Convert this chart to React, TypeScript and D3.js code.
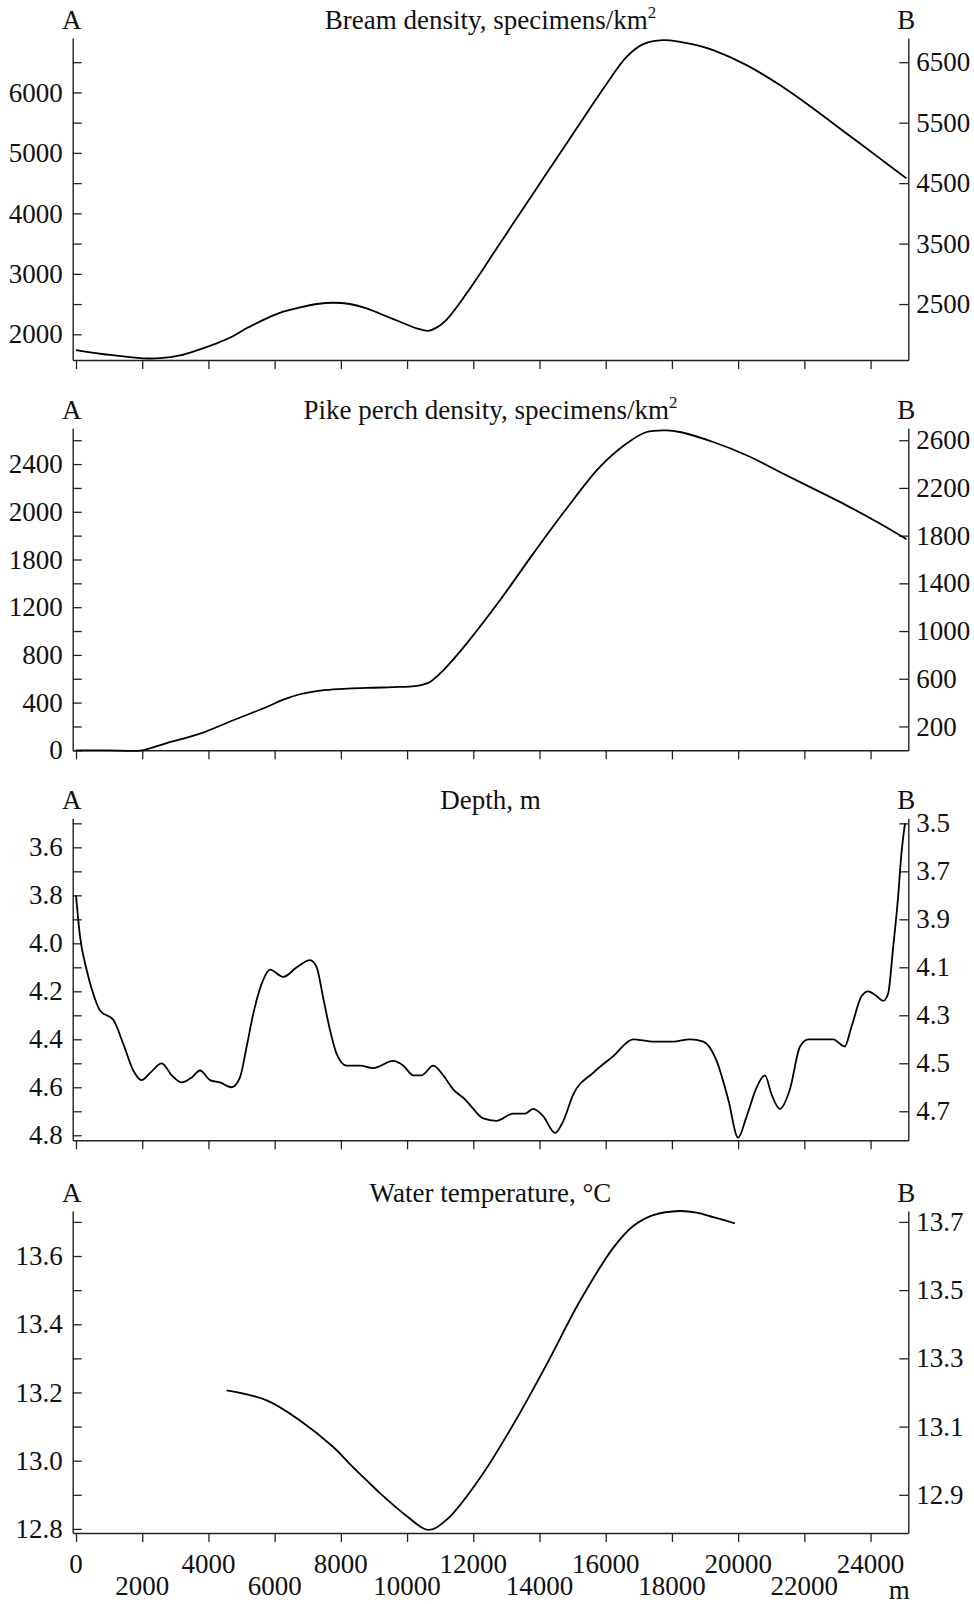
import React, { useEffect, useRef } from "react";
import * as d3 from "d3";

// ---- distance axis ----
const distTicks = [0, 2000, 4000, 6000, 8000, 10000, 12000, 14000, 16000, 18000, 20000, 22000, 24000];
const distLabelsRow1 = [0, 4000, 8000, 12000, 16000, 20000, 24000];
const distLabelsRow2 = [2000, 6000, 10000, 14000, 18000, 22000];
const distUnit = "m";

// ---- Bream density ----
const breamDist = [0, 1030, 2030, 2540, 3140, 3745, 4250, 4750, 5150, 5760, 6260, 6765, 7270, 7770, 8275, 8780, 9280, 9785, 10290, 10640, 10890, 11190, 11800, 12805, 13811, 14516, 15321, 16026, 16630, 17133, 17737, 18240, 18744, 19247, 20254, 21260, 22267, 23274, 24280, 25086];
const breamVal = [1740, 1658, 1603, 1605, 1650, 1752, 1851, 1972, 2099, 2264, 2374, 2446, 2501, 2522, 2501, 2430, 2319, 2208, 2099, 2058, 2110, 2240, 2678, 3503, 4330, 4909, 5570, 6140, 6588, 6798, 6864, 6837, 6782, 6699, 6451, 6121, 5735, 5322, 4909, 4579];
const breamLeftTicks = [2000, 2500, 3000, 3500, 4000, 4500, 5000, 5500, 6000, 6500];
const breamLeftLabelValues = [2000, 3000, 4000, 5000, 6000];
const breamLeftLabelTexts = ["2000", "3000", "4000", "5000", "6000"];
const breamRightTicks = [2500, 3500, 4500, 5500, 6500];
const breamRightLabels = ["2500", "3500", "4500", "5500", "6500"];

// ---- Pike perch density ----
const pikeDist = [0, 1000, 2000, 2738, 3745, 4751, 5758, 6261, 6765, 7268, 7771, 8778, 9785, 10300, 10691, 11093, 11798, 12805, 13811, 14818, 15825, 16630, 17234, 17838, 18241, 19247, 20254, 21260, 22267, 23274, 24280, 25086];
const pikeVal = [0, 0, 0, 61, 140, 252, 363, 425, 470, 497, 511, 523, 531, 540, 573, 671, 895, 1258, 1649, 2027, 2376, 2572, 2669, 2683, 2669, 2585, 2474, 2334, 2194, 2054, 1901, 1769];
const pikeLeftTicks = [0, 200, 400, 600, 800, 1000, 1200, 1400, 1600, 1800, 2000, 2200, 2400, 2600];
const pikeLeftLabelValues = [0, 400, 800, 1200, 1600, 2000, 2400];
const pikeLeftLabelTexts = ["0", "400", "800", "1200", "1800", "2000", "2400"];
const pikeRightTicks = [200, 600, 1000, 1400, 1800, 2200, 2600];
const pikeRightLabels = ["200", "600", "1000", "1400", "1800", "2200", "2600"];

// ---- Depth ----
const depthDist = [0, 120, 320, 520, 725, 1130, 1430, 1730, 1980, 2240, 2590, 2890, 3190, 3490, 3745, 4050, 4350, 4700, 4950, 5155, 5360, 5660, 5860, 6260, 6670, 7070, 7270, 7470, 7670, 7870, 8170, 8580, 8980, 9580, 9890, 10190, 10440, 10790, 11090, 11400, 11750, 12000, 12300, 12700, 13200, 13560, 13810, 14110, 14470, 14720, 15020, 15620, 16230, 16830, 17440, 18040, 18540, 18950, 19350, 19700, 20000, 20260, 20560, 20810, 21010, 21260, 21560, 21870, 22120, 22870, 23220, 23420, 23730, 23930, 24180, 24380, 24530, 24680, 24830, 24930, 25040];
const depthVal = [3.80, 3.97, 4.11, 4.21, 4.28, 4.32, 4.42, 4.53, 4.57, 4.54, 4.50, 4.55, 4.58, 4.56, 4.53, 4.57, 4.58, 4.60, 4.56, 4.43, 4.29, 4.15, 4.11, 4.14, 4.10, 4.07, 4.10, 4.23, 4.36, 4.46, 4.51, 4.51, 4.52, 4.49, 4.51, 4.55, 4.55, 4.51, 4.55, 4.61, 4.65, 4.69, 4.73, 4.74, 4.71, 4.71, 4.69, 4.72, 4.79, 4.74, 4.63, 4.54, 4.47, 4.40, 4.41, 4.41, 4.40, 4.41, 4.49, 4.65, 4.81, 4.72, 4.60, 4.55, 4.63, 4.69, 4.61, 4.43, 4.40, 4.40, 4.43, 4.35, 4.22, 4.20, 4.22, 4.24, 4.21, 4.02, 3.81, 3.63, 3.50];
const depthLeftTicks = [3.5, 3.6, 3.7, 3.8, 3.9, 4.0, 4.1, 4.2, 4.3, 4.4, 4.5, 4.6, 4.7, 4.8];
const depthLeftLabelValues = [3.6, 3.8, 4.0, 4.2, 4.4, 4.6, 4.8];
const depthLeftLabelTexts = ["3.6", "3.8", "4.0", "4.2", "4.4", "4.6", "4.8"];
const depthRightTicks = [3.5, 3.7, 3.9, 4.1, 4.3, 4.5, 4.7];
const depthRightLabels = ["3.5", "3.7", "3.9", "4.1", "4.3", "4.5", "4.7"];

// ---- Water temperature ----
const tempDist = [4550, 5760, 6765, 7770, 8275, 8780, 9181, 9987, 10640, 11194, 12201, 13207, 14214, 15221, 16227, 16831, 17435, 18241, 18743, 19246, 19902];
const tempVal = [13.206, 13.177, 13.118, 13.04, 12.99, 12.942, 12.905, 12.838, 12.797, 12.827, 12.949, 13.106, 13.282, 13.468, 13.624, 13.688, 13.72, 13.732, 13.727, 13.714, 13.696];
const tempLeftTicks = [12.8, 12.9, 13.0, 13.1, 13.2, 13.3, 13.4, 13.5, 13.6, 13.7];
const tempLeftLabelValues = [12.8, 13.0, 13.2, 13.4, 13.6];
const tempLeftLabelTexts = ["12.8", "13.0", "13.2", "13.4", "13.6"];
const tempRightTicks = [12.9, 13.1, 13.3, 13.5, 13.7];
const tempRightLabels = ["12.9", "13.1", "13.3", "13.5", "13.7"];

const titles = ["Bream density, specimens/km", "Pike perch density, specimens/km", "Depth, m", "Water temperature, \u00B0C"];
const titleSups = ["2", "2", "", ""];

const panels = [
  { dist: breamDist, val: breamVal, domain: [1575, 6900], inverted: false, smooth: true, lt: breamLeftTicks, lv: breamLeftLabelValues, ltx: breamLeftLabelTexts, rt: breamRightTicks, rtx: breamRightLabels },
  { dist: pikeDist, val: pikeVal, domain: [0, 2700], inverted: false, smooth: true, lt: pikeLeftTicks, lv: pikeLeftLabelValues, ltx: pikeLeftLabelTexts, rt: pikeRightTicks, rtx: pikeRightLabels },
  { dist: depthDist, val: depthVal, domain: [3.479, 4.821], inverted: true, smooth: false, lt: depthLeftTicks, lv: depthLeftLabelValues, ltx: depthLeftLabelTexts, rt: depthRightTicks, rtx: depthRightLabels },
  { dist: tempDist, val: tempVal, domain: [12.788, 13.732], inverted: false, smooth: true, lt: tempLeftTicks, lv: tempLeftLabelValues, ltx: tempLeftLabelTexts, rt: tempRightTicks, rtx: tempRightLabels },
];

const W = 974;
const H = 1604;
const plotLeft = 72.7;
const plotRight = 908.3;
const panelTops = [38, 428.3, 818.3, 1211];
const plotH = 322;
const FONT = "'Liberation Serif', 'Times New Roman', serif";
const FS = 27;
const AXIS_COLOR = "#222";

export default function App() {
  const ref = useRef<SVGSVGElement>(null);

  useEffect(() => {
    const svg = d3.select(ref.current);
    svg.selectAll("*").remove();
    const x = d3.scaleLinear().domain([-100, 25140]).range([plotLeft, plotRight]);

    const styleAxis = (g: any) => {
      g.attr("font-family", FONT).attr("font-size", FS);
      g.selectAll("path.domain").attr("stroke", AXIS_COLOR).attr("stroke-width", 1.4);
      g.selectAll(".tick line").attr("stroke", AXIS_COLOR).attr("stroke-width", 1.3);
      g.selectAll(".tick text").attr("fill", "#111");
    };

    panels.forEach((p, i) => {
      const top = panelTops[i];
      const bottom = top + plotH;
      const y = d3
        .scaleLinear()
        .domain(p.domain)
        .range(p.inverted ? [top, bottom] : [bottom, top]);
      const g = svg.append("g");

      const leftFmt = (v: any) => {
        const idx = p.lv.findIndex((lv) => Math.abs(lv - v) < 1e-6);
        return idx >= 0 ? p.ltx[idx] : "";
      };
      const rightFmt = (v: any) => {
        const idx = p.rt.findIndex((rv) => Math.abs(rv - v) < 1e-6);
        return idx >= 0 ? p.rtx[idx] : "";
      };

      g.append("g")
        .attr("transform", `translate(${plotLeft},0)`)
        .call(d3.axisLeft(y).tickValues(p.lt).tickSizeInner(-9).tickSizeOuter(0).tickPadding(10).tickFormat(leftFmt as any))
        .call(styleAxis);
      g.append("g")
        .attr("transform", `translate(${plotRight},0)`)
        .call(d3.axisRight(y).tickValues(p.rt).tickSizeInner(-9).tickSizeOuter(0).tickPadding(8).tickFormat(rightFmt as any))
        .call(styleAxis);
      g.append("g")
        .attr("transform", `translate(0,${bottom})`)
        .call(d3.axisBottom(x).tickValues(distTicks).tickSize(9).tickSizeOuter(0).tickFormat(() => ""))
        .call(styleAxis);

      const line = d3
        .line<number>()
        .x((_, k) => x(p.dist[k]))
        .y((d) => y(d))
        .curve(p.smooth ? d3.curveCatmullRom.alpha(0.5) : d3.curveMonotoneX);
      g.append("path")
        .attr("d", line(p.val) as string)
        .attr("fill", "none")
        .attr("stroke", "#000")
        .attr("stroke-width", 1.8)
        .attr("stroke-linejoin", "round");

      const t = g
        .append("text")
        .attr("x", (plotLeft + plotRight) / 2)
        .attr("y", top - 9)
        .attr("text-anchor", "middle")
        .attr("font-family", FONT)
        .attr("font-size", FS)
        .attr("fill", "#111");
      t.append("tspan").text(titles[i]);
      if (titleSups[i]) {
        t.append("tspan").attr("dy", -11).attr("font-size", 17).text(titleSups[i]);
      }
      g.append("text")
        .attr("x", plotLeft - 1)
        .attr("y", top - 9)
        .attr("text-anchor", "middle")
        .attr("font-family", FONT)
        .attr("font-size", FS)
        .attr("fill", "#111")
        .text("A");
      g.append("text")
        .attr("x", plotRight - 2)
        .attr("y", top - 9)
        .attr("text-anchor", "middle")
        .attr("font-family", FONT)
        .attr("font-size", FS)
        .attr("fill", "#111")
        .text("B");
    });

    const lastBottom = panelTops[3] + plotH;
    const lab = svg.append("g").attr("font-family", FONT).attr("font-size", FS).attr("fill", "#111").attr("text-anchor", "middle");
    lab.selectAll("text.r1")
      .data(distLabelsRow1)
      .join("text")
      .attr("class", "r1")
      .attr("x", (d) => x(d))
      .attr("y", lastBottom + 40)
      .text((d) => String(d));
    lab.selectAll("text.r2")
      .data(distLabelsRow2)
      .join("text")
      .attr("class", "r2")
      .attr("x", (d) => x(d))
      .attr("y", lastBottom + 62)
      .text((d) => String(d));
    lab.append("text").attr("x", plotRight - 9).attr("y", lastBottom + 66).text(distUnit);
  }, []);

  return (
    <svg
      ref={ref}
      width={W}
      height={H}
      style={{ position: "absolute", left: 0, top: 0, background: "#fff", display: "block" }}
    />
  );
}
